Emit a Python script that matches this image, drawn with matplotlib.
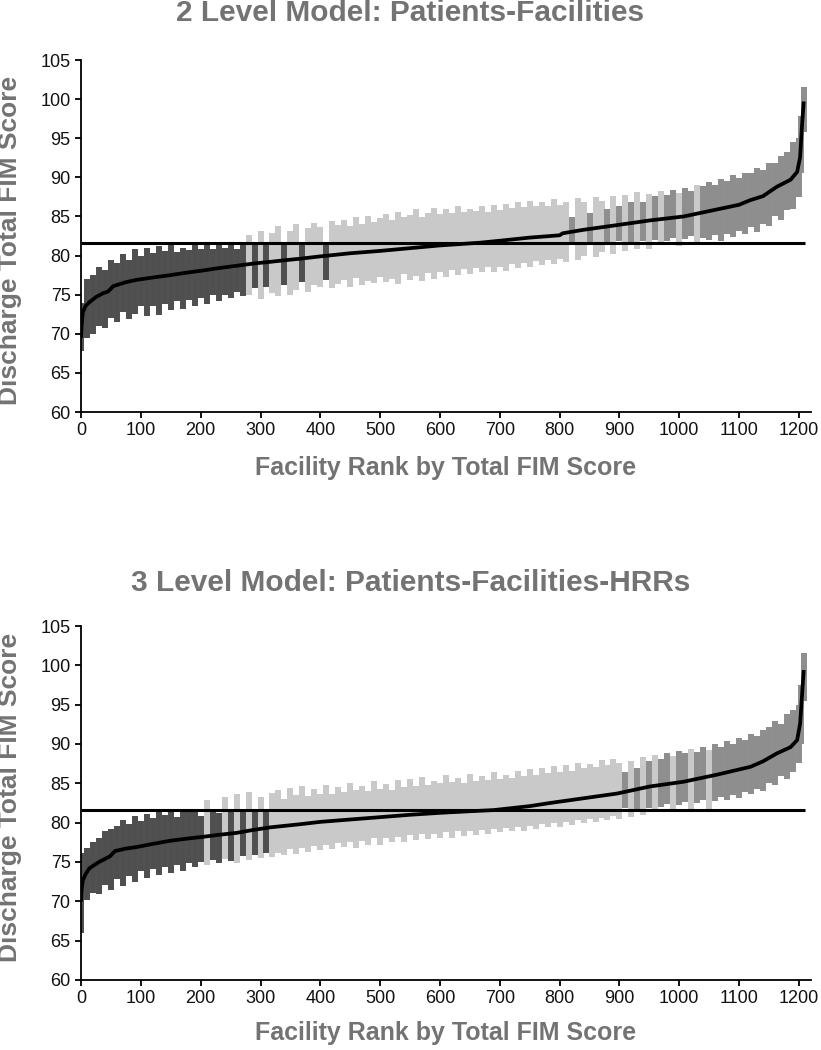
import numpy as np
import matplotlib
matplotlib.use('Agg')
import matplotlib.pyplot as plt

plt.rcParams['font.family'] = ['Liberation Sans', 'DejaVu Sans']

# grand mean of discharge total FIM (horizontal reference line)
grand_mean = 81.6
mean_line_end = 1210

# facility ranks of the drawn interval bars (one bar per 10 facilities)
bar_rank = list(range(0, 1201, 10)) + [1204, 1208]

# ---- 2 level model: patients-facilities ----
lvl2_lo = [67.8, 69.5, 70.0, 71.0, 70.8, 72.0, 71.5, 72.8, 71.9, 72.5,
           73.6, 72.3, 73.5, 72.4, 73.8, 73.0, 74.2, 73.2, 74.3, 73.5,
           74.6, 73.8, 74.9, 74.2, 75.0, 74.6, 75.3, 74.8, 75.0, 75.8,
           74.5, 76.0, 75.2, 74.8, 76.3, 75.0, 75.6, 76.6, 75.3, 76.2,
           76.0, 76.9, 75.8, 76.4, 76.9, 76.0, 77.1, 76.3, 76.8, 76.5,
           77.3, 76.6, 77.0, 76.4, 77.6, 76.9, 77.4, 76.8, 77.8, 77.0,
           77.9, 77.2, 78.1, 77.5, 78.3, 77.6, 78.4, 77.9, 78.6, 77.9,
           78.6, 78.0, 78.9, 78.4, 79.1, 78.6, 79.3, 78.8, 79.4, 78.9,
           79.6, 79.2, 81.7, 79.5, 80.0, 81.8, 79.8, 80.4, 81.8, 80.2,
           81.9, 80.6, 81.8, 80.8, 81.9, 80.9, 82.0, 81.3, 81.9, 82.3,
           81.2, 82.1, 82.5, 81.4, 82.3, 82.0, 82.6, 81.9, 82.8, 82.4,
           83.1, 82.7, 83.6, 83.0, 84.0, 83.8, 85.0, 84.6, 85.8, 86.0,
           87.5, 90.5, 95.8]
lvl2_hi = [74.0, 77.0, 77.5, 78.6, 78.2, 79.5, 79.0, 80.2, 79.4, 80.8,
           80.0, 81.0, 80.3, 81.2, 80.6, 81.3, 80.5, 81.0, 80.7, 81.3,
           80.9, 81.4, 80.8, 81.3, 81.0, 81.4, 80.9, 81.5, 82.6, 81.3,
           83.2, 81.4, 82.9, 83.8, 81.5, 83.1, 84.0, 81.5, 83.5, 84.2,
           83.6, 81.5, 84.4, 83.9, 84.6, 83.8, 84.9, 84.1, 85.0, 84.3,
           84.8, 85.3, 84.6, 85.6, 84.9, 85.2, 85.9, 84.9, 85.4, 86.1,
           85.3, 86.0, 85.5, 86.4, 85.6, 86.0, 85.7, 86.3, 85.6, 86.5,
           85.8, 86.6, 86.1, 86.9, 86.2, 87.0, 86.4, 86.9, 86.3, 87.2,
           86.5, 86.8, 84.9, 87.3, 86.9, 85.4, 87.5, 87.0, 85.9, 87.6,
           86.4, 87.8, 86.9, 88.1, 86.8, 87.9, 87.6, 88.2, 87.8, 88.4,
           88.0, 88.6, 88.3, 89.0, 88.9, 89.4, 89.0, 89.8, 89.5, 90.3,
           89.9, 90.6, 90.5, 91.2, 91.0, 91.9, 91.8, 92.7, 93.2, 94.5,
           95.0, 97.8, 101.5]

lvl2_curve_rank = [0, 1, 3, 8, 15, 25, 37, 45, 54, 75, 93, 120, 149, 175, 204,
                   230, 260, 290, 316, 340, 366, 400, 450, 500, 550, 600, 667,
                   700, 750, 784, 800, 805, 840, 896, 951, 1007, 1063, 1100,
                   1119, 1140, 1163, 1186, 1197, 1202, 1205, 1208]
lvl2_curve_est = [69.5, 71.0, 72.8, 73.6, 74.1, 74.7, 75.2, 75.4, 76.1, 76.6,
                  76.9, 77.2, 77.5, 77.8, 78.1, 78.4, 78.7, 79.0, 79.2, 79.4,
                  79.6, 79.9, 80.3, 80.6, 80.95, 81.3, 81.65, 81.9, 82.3, 82.5,
                  82.6, 82.85, 83.3, 83.9, 84.5, 85.0, 85.9, 86.5, 87.1, 87.6,
                  88.8, 89.7, 90.7, 92.6, 96.5, 99.7]

# ---- 3 level model: patients-facilities-HRRs ----
lvl3_lo = [66.0, 70.2, 71.0, 70.9, 72.1, 71.4, 72.8, 72.0, 73.2, 72.4,
           73.9, 72.9, 74.1, 73.3, 74.3, 73.6, 74.6, 73.9, 74.9, 74.3,
           75.0, 74.6, 75.3, 74.9, 75.4, 75.1, 74.9, 75.7, 75.2, 75.9,
           75.5, 76.2, 75.6, 76.2, 75.9, 76.6, 76.0, 76.8, 76.3, 77.0,
           76.5, 77.2, 76.6, 77.4, 76.9, 77.5, 76.8, 77.7, 77.1, 78.0,
           77.2, 78.1, 77.5, 78.2, 77.6, 78.4, 77.8, 78.5, 77.9, 78.6,
           78.0, 78.8, 78.1, 78.9, 78.3, 79.0, 78.4, 79.1, 78.6, 79.2,
           78.8, 79.3, 78.9, 79.5, 79.0, 79.6, 79.2, 79.8, 79.4, 80.0,
           79.5, 80.1, 79.7, 80.3, 79.9, 80.5, 80.1, 80.6, 80.3, 80.8,
           80.5, 81.8, 80.7, 81.7, 81.0, 81.9, 81.3, 82.0, 82.4, 81.4,
           82.3, 82.6, 81.5, 82.5, 82.9, 81.5, 82.8, 83.2, 82.9, 83.5,
           83.1, 83.9, 83.6, 84.3, 84.0, 85.0, 84.8, 85.9, 85.6, 86.5,
           87.6, 90.0, 95.5]
lvl3_hi = [76.2, 76.8, 77.6, 78.0, 78.9, 79.2, 79.6, 80.4, 79.8, 80.9,
           80.2, 81.1, 80.6, 81.4, 81.0, 81.4, 80.7, 81.3, 81.3, 81.5,
           80.9, 82.9, 81.4, 81.2, 83.2, 81.5, 83.6, 81.4, 83.9, 81.5,
           83.2, 81.5, 83.8, 84.1, 83.0, 84.4, 83.5, 84.6, 83.4, 84.3,
           83.7, 84.8, 83.6, 84.5, 83.9, 85.0, 84.1, 84.7, 84.0, 85.3,
           84.3, 84.9, 84.2, 85.4, 84.5, 85.5, 84.6, 85.8, 84.8, 85.3,
           85.0, 86.1, 85.2, 85.7, 85.1, 86.2, 85.3, 85.9, 85.4, 86.4,
           85.5, 86.0, 85.7, 86.6, 85.9, 86.8, 86.0, 86.9, 86.3, 87.2,
           86.5, 87.3, 86.6, 87.6, 86.9, 87.5, 87.1, 88.0, 87.3, 88.1,
           87.6, 86.5, 87.9, 86.9, 88.4, 87.9, 88.6, 88.1, 88.8, 88.5,
           89.1, 88.8, 89.4, 89.0, 89.6, 89.3, 90.0, 89.6, 90.4, 90.0,
           90.8, 90.5, 91.3, 91.0, 91.8, 92.1, 92.9, 92.6, 93.8, 94.3,
           94.9, 97.5, 101.6]

lvl3_curve_rank = [0, 1, 3, 8, 14, 30, 48, 57, 75, 93, 120, 149, 175, 204,
                   230, 260, 290, 316, 366, 400, 450, 500, 550, 600, 650, 690,
                   750, 784, 840, 896, 951, 1007, 1063, 1119, 1140, 1163,
                   1186, 1197, 1202, 1205, 1208]
lvl3_curve_est = [70.0, 71.5, 72.7, 73.5, 74.2, 75.0, 75.7, 76.4, 76.7, 76.9,
                  77.3, 77.7, 77.95, 78.2, 78.45, 78.7, 79.1, 79.4, 79.8, 80.1,
                  80.4, 80.7, 81.0, 81.25, 81.45, 81.6, 82.1, 82.5, 83.1, 83.7,
                  84.6, 85.2, 86.1, 87.1, 87.8, 88.8, 89.6, 90.5, 92.6, 96.0,
                  99.4]

titles = ['2 Level Model: Patients-Facilities',
          '3 Level Model: Patients-Facilities-HRRs']
xlabel = 'Facility Rank by Total FIM Score'
ylabel = 'Discharge Total FIM Score'

DARK = '#4f4f4f'
LIGHT = '#c9c9c9'
MED = '#8e8e8e'
TXT = '#737373'

H = 1050.0
W = 821.0


def draw_panel(ax, lo, hi, crank, cest, title, title_y, xlab_y, ylab_y):
    lo = np.array(lo)
    hi = np.array(hi)
    r = np.array(bar_rank)
    cols = np.where(hi < grand_mean, DARK, np.where(lo > grand_mean, MED, LIGHT))
    ax.vlines(r, lo, hi, colors=cols, linewidth=4.3, capstyle='butt', zorder=2)
    ax.hlines(grand_mean, 0, mean_line_end, color='black', linewidth=2.2, zorder=3)
    ax.plot(crank, cest, color='black', linewidth=2.7, solid_capstyle='butt', zorder=4)

    ax.set_xlim(0, 1220)
    ax.set_ylim(60, 105)
    ax.set_xticks(np.arange(0, 1201, 100))
    ax.set_yticks(np.arange(60, 106, 5))
    for s in ['top', 'right']:
        ax.spines[s].set_visible(False)
    for s in ['left', 'bottom']:
        ax.spines[s].set_linewidth(1.3)
        ax.spines[s].set_color('black')
    ax.tick_params(direction='out', length=4, width=1.3, labelsize=13,
                   colors='black', labelcolor='#111111')
    fig.text(0.5, 1 - title_y / H, title, ha='center', va='center',
             fontsize=21.5, fontweight='bold', color=TXT)
    fig.text(446 / W, 1 - xlab_y / H, xlabel, ha='center', va='center',
             fontsize=18, fontweight='bold', color=TXT)
    fig.text(10 / W, 1 - ylab_y / H, ylabel, ha='center', va='center',
             rotation=90, fontsize=19, fontweight='bold', color=TXT)


fig = plt.figure(figsize=(8.21, 10.5), dpi=100)
ax1 = fig.add_axes([0.0987, 0.6076, 0.889, 0.3352])
ax2 = fig.add_axes([0.0987, 0.0667, 0.889, 0.3371])

draw_panel(ax1, lvl2_lo, lvl2_hi, lvl2_curve_rank, lvl2_curve_est, titles[0],
           13, 468, 240)
draw_panel(ax2, lvl3_lo, lvl3_hi, lvl3_curve_rank, lvl3_curve_est, titles[1],
           583, 1033, 797)

fig.savefig('out.png', dpi=100)
